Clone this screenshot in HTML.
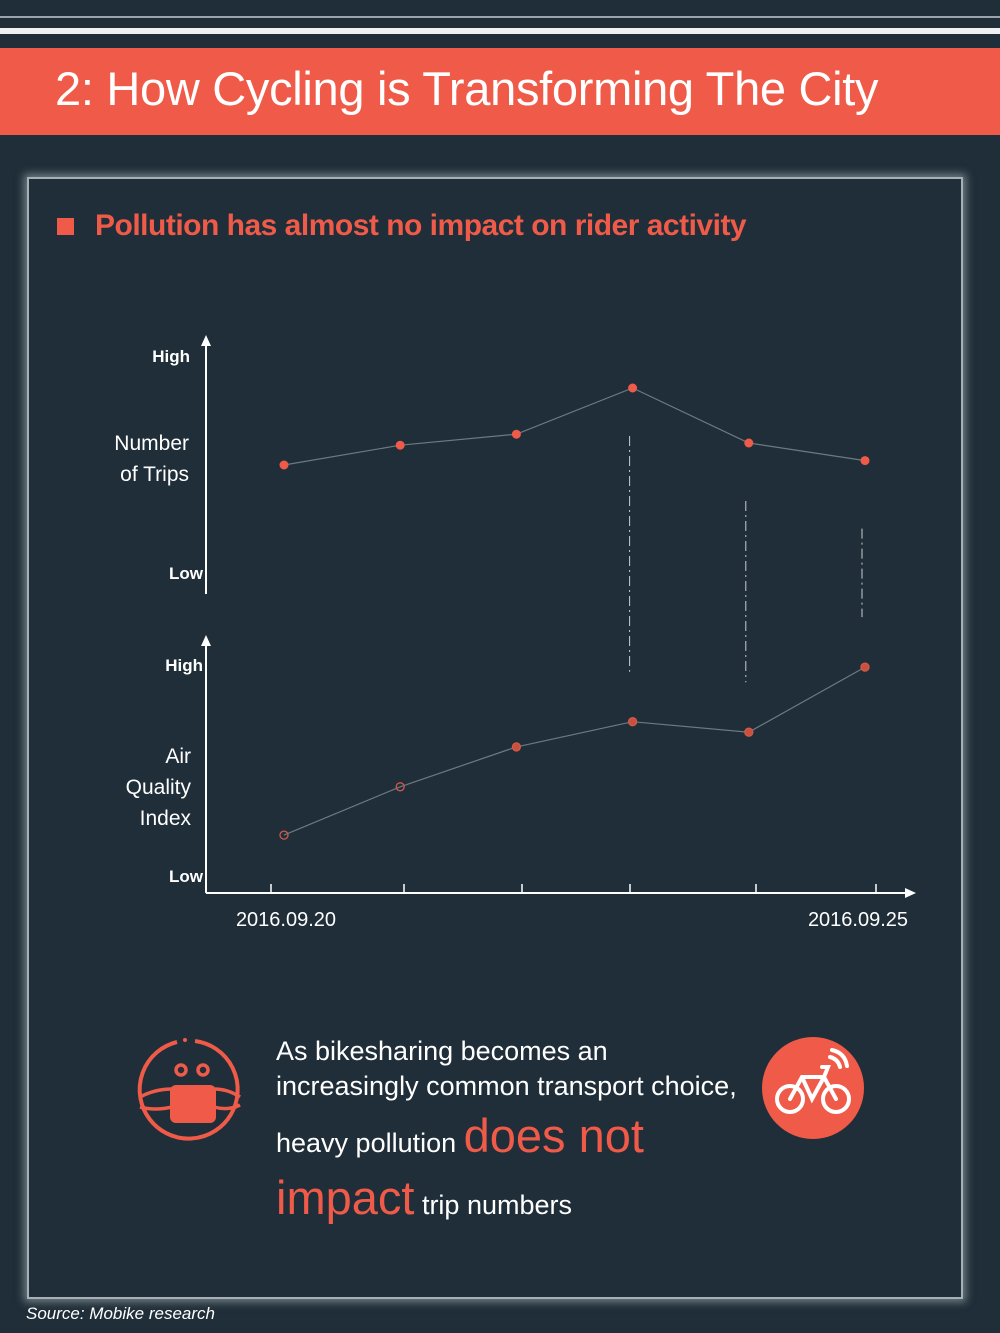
<!DOCTYPE html>
<html><head><meta charset="utf-8"><style>
body{margin:0;width:1000px;height:1333px;background:#1f2e38;font-family:"Liberation Sans",sans-serif;overflow:hidden;position:relative}
.abs{position:absolute}
</style></head><body>
<div class="abs" style="left:0;top:16px;width:1000px;height:2px;background:#9aa4aa"></div>
<div class="abs" style="left:0;top:28px;width:1000px;height:6px;background:#eef0f2"></div>
<div class="abs" style="left:0;top:48px;width:1000px;height:87px;background:#ef5b48"></div>
<div class="abs" style="left:55px;top:61px;font-size:47px;color:#fff;letter-spacing:-0.3px">2: How Cycling is Transforming The City</div>
<div class="abs" style="left:27px;top:177px;width:932px;height:1118px;border:2px solid #a7b0b6;box-shadow:0 0 8px 3px rgba(170,180,186,0.6)"></div>
<div class="abs" style="left:57px;top:218px;width:17px;height:17px;background:#ef5b48"></div>
<div class="abs" style="left:95px;top:209px;font-size:30px;font-weight:bold;color:#ef5b48;letter-spacing:-0.5px">Pollution has almost no impact on rider activity</div>

<svg class="abs" style="left:0;top:0" width="1000" height="1333" id="chart"></svg>

<div class="abs" style="left:26px;top:1304px;font-size:17px;font-style:italic;color:#fff">Source: Mobike research</div>

<svg class="abs" style="left:135px;top:1035px" width="110" height="110" viewBox="0 0 110 110">
<path d="M60 6 A49 49 0 1 1 42 7" fill="none" stroke="#ef5b48" stroke-width="4"/>
<circle cx="50" cy="5" r="2" fill="#ef5b48"/>
<circle cx="46" cy="35" r="5" fill="none" stroke="#ef5b48" stroke-width="3.5"/>
<circle cx="68" cy="35" r="5" fill="none" stroke="#ef5b48" stroke-width="3.5"/>
<path d="M5 62 Q20 54 37 54 M5 72 Q20 76 37 72 M79 54 Q93 54 105 62 M79 72 Q93 76 105 70" fill="none" stroke="#ef5b48" stroke-width="3.5"/>
<rect x="35" y="50" width="46" height="38" rx="6" fill="#ef5b48"/>
</svg>
<svg class="abs" style="left:762px;top:1037px" width="102" height="102" viewBox="0 0 102 102">
<circle cx="51" cy="51" r="51" fill="#ef5b48"/>
<g fill="none" stroke="#fff" stroke-width="4" stroke-linecap="round">
<circle cx="28" cy="62" r="13"/><circle cx="74" cy="62" r="13"/>
<path d="M28 62 L40 40 L62 40 L74 62 M40 40 L50 62 L62 40 M60 30 L66 30 L62 40"/>
<path d="M68 20 Q76 22 78 30 M70 13 Q83 16 85 29"/>
</g></svg>

<div class="abs" style="left:276px;top:1034px;color:#fff;font-size:27px;line-height:35px;width:560px;white-space:nowrap">As bikesharing becomes an<br>increasingly common transport choice,</div>
<div class="abs" style="left:276px;top:1108px;color:#fff;font-size:27px;white-space:nowrap">heavy pollution <span style="color:#ef5b48;font-size:47px">does not</span></div>
<div class="abs" style="left:276px;top:1170px;color:#fff;font-size:27px;white-space:nowrap"><span style="color:#ef5b48;font-size:47px">impact</span> trip numbers</div>

<script>
const dates=["2016.09.20","2016.09.21","2016.09.22","2016.09.23","2016.09.24","2016.09.25"];
const trips=[50,59,64,85,60,52];
const aqi=[19,42,61,73,68,99];
const xLabels=["2016.09.20","2016.09.25"];
const NS="http://www.w3.org/2000/svg";
const svg=document.getElementById('chart');
function xs(i){return 284+i*116.2;}
function yT(v){return 575-v*2.2;}
function yA(v){return 875-v*2.1;}
function mk(t,a){const e=document.createElementNS(NS,t);for(const k in a)e.setAttribute(k,a[k]);svg.appendChild(e);return e;}
function txt(x,y,s,anchor,size,bold,name){const e=mk('text',{x:x,y:y,'text-anchor':anchor,fill:'#fff','font-size':size,'font-weight':bold?'bold':'normal','font-family':'Liberation Sans, sans-serif'});e.textContent=s;

return e;}
let a=mk('line',{x1:206,y1:345,x2:206,y2:594,stroke:'#fff','stroke-width':2});


mk('path',{d:'M201 346 L206 335 L211 346 Z',fill:'#fff'});
a=mk('line',{x1:206,y1:645,x2:206,y2:893,stroke:'#fff','stroke-width':2});


mk('path',{d:'M201 646 L206 635 L211 646 Z',fill:'#fff'});
a=mk('line',{x1:206,y1:893,x2:906,y2:893,stroke:'#fff','stroke-width':2});


mk('path',{d:'M905 888 L916 893 L905 898 Z',fill:'#fff'});
const tickX=[271,404,522,630,756,876];
dates.forEach((d,i)=>{const t=mk('line',{x1:tickX[i],y1:884,x2:tickX[i],y2:893,stroke:'#fff','stroke-width':1.5});

});
txt(286,926,xLabels[0],'middle',20,false,'x-label-start');
txt(858,926,xLabels[1],'middle',20,false,'x-label-end');
txt(190,362,'High','end',17,true,'trips-high-label');
txt(203,579,'Low','end',17,true,'trips-low-label');
txt(189,450,'Number','end',21,false,'trips-axis-title');
txt(189,481,'of Trips','end',21,false,'trips-axis-title-2');
txt(203,671,'High','end',17,true,'aqi-high-label');
txt(203,882,'Low','end',17,true,'aqi-low-label');
txt(191,763,'Air','end',21,false,'aqi-axis-title');
txt(191,794,'Quality','end',21,false,'aqi-axis-title-2');
txt(191,825,'Index','end',21,false,'aqi-axis-title-3');
[3,4,5].forEach(i=>{const l=mk('line',{x1:xs(i)-3,y1:yT(trips[i])+48+(i-3)*10,x2:xs(i)-3,y2:yA(aqi[i])-50,stroke:'#c8cdd0','stroke-width':1,'stroke-dasharray':'10 4 2 4'});

});
let p=mk('polyline',{points:trips.map((v,i)=>xs(i)+','+yT(v)).join(' '),fill:'none',stroke:'#6d7a82','stroke-width':1.2});


p=mk('polyline',{points:aqi.map((v,i)=>xs(i)+','+yA(v)).join(' '),fill:'none',stroke:'#6d7a82','stroke-width':1.2});


trips.forEach((v,i)=>{const c=mk('circle',{cx:xs(i),cy:yT(v),r:4.5,fill:'#ef5b48'});

});
aqi.forEach((v,i)=>{const c=mk('circle',{cx:xs(i),cy:yA(v),r:4,fill:i<2?'none':'#c9503f',stroke:'#d25a48','stroke-width':1.3});

});
</script>
</body></html>
